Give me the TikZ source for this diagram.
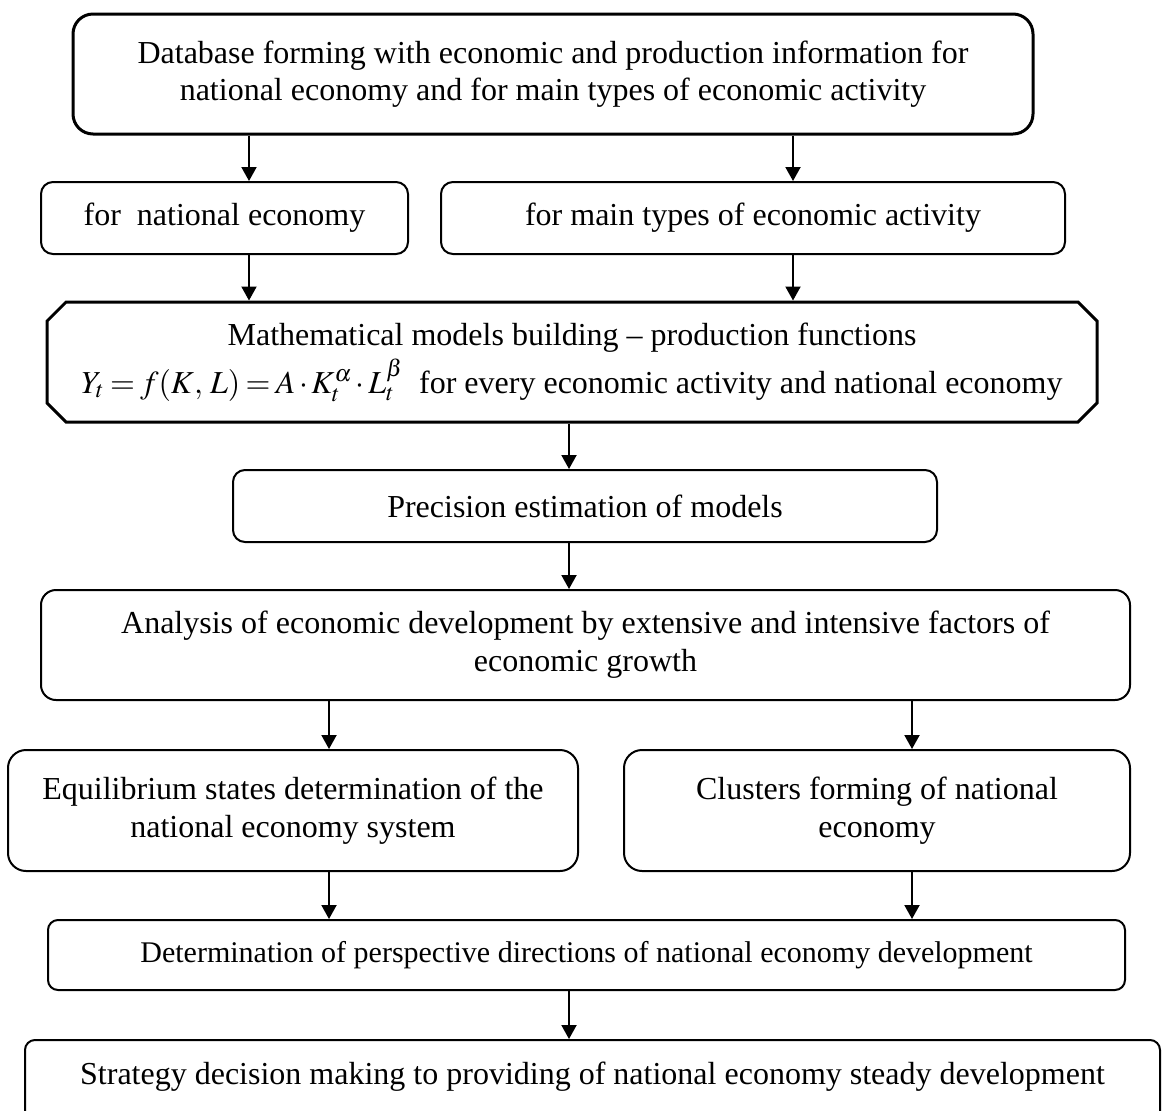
\documentclass[tikz,border=0pt]{standalone}
\usepackage{mathptmx}
\usepackage{fontspec}
\setmainfont{Liberation Serif}
\usetikzlibrary{arrows.meta, shapes.misc}

\begin{document}
\begin{tikzpicture}[x=0.5pt, y=-0.5pt,
>={Triangle[length=7pt, width=7.5pt]},
block/.style={rounded corners=6pt, draw=black, line width=1pt, inner sep=0pt, align=center, font=\fontsize{16}{19}\selectfont},
mainblock/.style={block, rounded corners=10pt, line width=1.5pt, font=\fontsize{16}{18.5}\selectfont},
model/.style={chamfered rectangle, chamfered rectangle xsep=6.5pt, draw=black, line width=1.5pt, inner sep=0pt, align=center, font=\fontsize{16}{24}\selectfont},
]
\useasboundingbox (0,0) rectangle (1163,1110);

% Define a grid using coordinates
\coordinate (grid1) at (553,74);      % Top
\coordinate (grid2) at (224.5,218);   % Second row left
\coordinate (grid3) at (753,218);     % Second row right
\coordinate (grid4) at (572,362);     % Models
\coordinate (grid5) at (585,506);     % Precision
\coordinate (grid6) at (585.5,645);   % Analysis
\coordinate (grid7) at (293,810.5);   % Lower left
\coordinate (grid8) at (877,810.5);   % Lower right
\coordinate (grid9) at (586.5,955);   % Directions
\coordinate (grid10) at (592.5,1039); % Bottom (top edge)

% Columns for the arrows
\coordinate (colA) at (249,0);
\coordinate (colB) at (793,0);
\coordinate (colC) at (569,0);
\coordinate (colD) at (329,0);
\coordinate (colE) at (912,0);

% Nodes at grid points
\node[mainblock, minimum width=480pt, minimum height=60pt] (db) at (grid1) {Database forming with economic and production information for\\national economy and for main types of economic activity};

\node[block, minimum width=183.5pt, minimum height=36pt] (natl) at (grid2) {for\ \ national economy};
\node[block, minimum width=312pt, minimum height=36pt] (acts) at (grid3) {for main types of economic activity};

\node[model, minimum width=525pt, minimum height=60pt] (models) at (grid4) {Mathematical models building -- production functions\\\thickmuskip=3mu\medmuskip=2mu$Y_t = f(K,\,L) = A\cdot K_t^{\alpha}\cdot L_t^{\beta}$\ \ for every economic activity and national economy};

\node[block, minimum width=352pt, minimum height=36pt] (prec) at (grid5) {Precision estimation of models};

\node[block, rounded corners=7.5pt, minimum width=544.5pt, minimum height=55pt] (anal) at (grid6) {Analysis of economic development by extensive and intensive factors of\\economic growth};

\node[block, rounded corners=9pt, minimum width=285pt, minimum height=60.5pt] (equil) at (grid7) {Equilibrium states determination of the\\national economy system};
\node[block, rounded corners=9pt, minimum width=253pt, minimum height=60.5pt] (clust) at (grid8) {Clusters forming of national\\economy};

\node[block, rounded corners=5pt, minimum width=538.5pt, minimum height=35pt, font=\fontsize{15}{18}\selectfont] (persp) at (grid9) {Determination of perspective directions of national economy development};

\node[block, rounded corners=5pt, anchor=north, minimum width=567.5pt, text height=22pt, text depth=60pt] (strat) at (grid10) {Strategy decision making to providing of national economy steady development};

% Draw connecting arrows
\draw[->, line width=1pt] (db.south -| colA) -- (natl.north -| colA);
\draw[->, line width=1pt] (db.south -| colB) -- (acts.north -| colB);
\draw[->, line width=1pt] (natl.south -| colA) -- (models.north -| colA);
\draw[->, line width=1pt] (acts.south -| colB) -- (models.north -| colB);
\draw[->, line width=1pt] (models.south -| colC) -- (prec.north -| colC);
\draw[->, line width=1pt] (prec.south -| colC) -- (anal.north -| colC);
\draw[->, line width=1pt] (anal.south -| colD) -- (equil.north -| colD);
\draw[->, line width=1pt] (anal.south -| colE) -- (clust.north -| colE);
\draw[->, line width=1pt] (equil.south -| colD) -- (persp.north -| colD);
\draw[->, line width=1pt] (clust.south -| colE) -- (persp.north -| colE);
\draw[->, line width=1pt] (persp.south -| colC) -- (strat.north -| colC);

\end{tikzpicture}
\end{document}
